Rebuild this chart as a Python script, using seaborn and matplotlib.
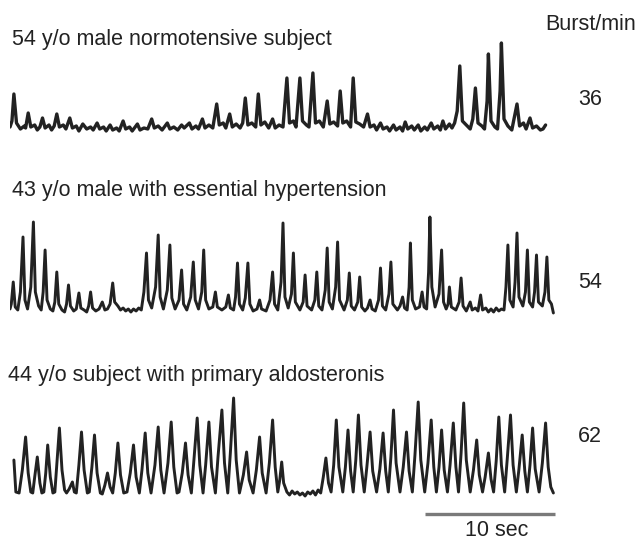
import matplotlib
matplotlib.use("Agg")
import matplotlib.pyplot as plt
import seaborn as sns
import pandas as pd

# ---------------- data (time in s, amplitude in a.u.) ----------------
titles = ["54 y/o male normotensive subject",
          "43 y/o male with essential hypertension",
          "44 y/o subject with primary aldosteronis"]
burst_rates = [36, 54, 62]
rate_header = "Burst/min"
scale_bar_seconds = 10
scale_label = "10 sec"

t1_time = [0.0, 0.15, 0.3, 0.5, 0.8, 1.1, 1.2, 1.4, 1.6, 1.9, 2.1, 2.3, 2.5, 2.7, 3.0, 3.2, 3.4, 3.6, 3.8, 4.1,
           4.3, 4.6, 4.8, 5.1, 5.3, 5.6, 5.9, 6.2, 6.4, 6.7, 6.9, 7.2, 7.4, 7.7, 7.9, 8.2, 8.4, 8.7, 8.9, 9.2,
           9.4, 9.8, 10.0, 10.3, 10.6, 10.9, 11.1, 11.4, 11.7, 12.1, 12.3, 12.6, 12.9, 13.2, 13.4, 13.8, 14.0,
           14.3, 14.5, 14.8, 15.0, 15.3, 15.6, 15.9, 16.1, 16.4, 16.6, 16.9, 17.1, 17.4, 17.7, 17.9, 18.1, 18.3,
           18.6, 18.9, 19.1, 19.3, 19.6, 19.9, 20.2, 20.4, 20.7, 21.0, 21.3, 21.5, 21.8, 22.0, 22.3, 22.5, 22.8,
           23.0, 23.3, 23.5, 23.8, 24.1, 24.4, 24.6, 24.9, 25.2, 25.4, 25.6, 25.9, 26.2, 26.4, 26.6, 26.9, 27.2,
           27.5, 27.7, 28.0, 28.2, 28.5, 28.7, 29.0, 29.2, 29.5, 29.7, 30.0, 30.2, 30.4, 30.6, 30.9, 31.1, 31.4,
           31.6, 31.9, 32.1, 32.4, 32.6, 32.9, 33.1, 33.3, 33.5, 33.8, 34.0, 34.2, 34.4, 34.6, 34.8, 35.1, 35.4,
           35.6, 35.8, 36.0, 36.3, 36.5, 36.7, 36.8, 37.0, 37.3, 37.5, 37.7, 37.8, 38.0, 38.3, 38.6, 39.0, 39.2,
           39.5, 39.7, 40.0, 40.2, 40.5, 40.8, 41.0, 41.2]
t1_amp = [4, 10, 37, 8, 2, 5, 3, 18, 4, 6, 1, 4, 13, 3, 6, 1, 5, 17, 4, 6,
          2, 13, 3, 5, 0, 7, 2, 4, 1, 8, 2, 4, 0, 6, 1, 3, 0, 10, 2, 4,
          0, 7, 1, 3, 2, 12, 3, 5, 1, 8, 2, 4, 1, 6, 3, 8, 2,
          5, 2, 12, 3, 6, 3, 27, 6, 8, 3, 17, 4, 7, 3, 8, 33, 6,
          8, 4, 37, 6, 9, 3, 12, 3, 6, 4, 53, 8, 10, 4, 53, 10, 6,
          4, 58, 8, 10, 4, 30, 7, 9, 5, 40, 8, 10, 4, 53, 9, 7, 4,
          17, 4, 6, 1, 8, 2, 4, 0, 6, 1, 4, 0, 9, 2, 5, 1, 6,
          0, 4, 1, 8, 2, 5, 1, 10, 2, 7, 3, 8, 20, 65, 10, 6, 2,
          12, 43, 8, 5, 2, 30, 77, 10, 4, 2, 40, 88, 12, 5, 1, 27, 5,
          8, 2, 13, 3, 5, 1, 2, 6]

t2_time = [0.0, 0.1, 0.25, 0.4, 0.6, 0.8, 1.0, 1.15, 1.35, 1.6, 1.8, 1.95, 2.2, 2.4, 2.55, 2.7, 2.85, 3.1, 3.3,
           3.45, 3.6, 3.75, 4.0, 4.2, 4.35, 4.5, 4.65, 4.9, 5.1, 5.3, 5.45, 5.7, 5.9, 6.05, 6.2, 6.35, 6.6, 6.85,
           7.1, 7.3, 7.5, 7.7, 7.9, 8.05, 8.3, 8.5, 8.7, 8.9, 9.1, 9.3, 9.5, 9.7, 9.9, 10.1, 10.3, 10.5, 10.65,
           10.9, 11.2, 11.4, 11.55, 11.8, 12.1, 12.3, 12.45, 12.7, 13.0, 13.2, 13.35, 13.6, 13.9, 14.1, 14.25,
           14.5, 14.75, 14.9, 15.05, 15.3, 15.6, 15.8, 15.95, 16.3, 16.6, 16.8, 16.95, 17.2, 17.35, 17.5, 17.65,
           17.9, 18.1, 18.3, 18.45, 18.7, 19.0, 19.2, 19.35, 19.7, 20.0, 20.2, 20.35, 20.6, 20.85, 21.0, 21.15,
           21.4, 21.65, 21.8, 21.95, 22.3, 22.55, 22.7, 22.85, 23.2, 23.45, 23.6, 23.75, 24.0, 24.25, 24.4,
           24.55, 24.8, 25.05, 25.2, 25.35, 25.7, 25.95, 26.1, 26.25, 26.5, 26.75, 26.9, 27.05, 27.3, 27.5,
           27.7, 27.85, 28.1, 28.35, 28.5, 28.65, 28.9, 29.15, 29.3, 29.45, 29.8, 30.0, 30.2, 30.35, 30.55,
           30.7, 30.8, 30.95, 31.2, 31.5, 31.7, 31.85, 32.05, 32.2, 32.3, 32.45, 32.7, 33.0, 33.2, 33.35, 33.55,
           33.7, 33.8, 33.95, 34.3, 34.55, 34.7, 34.85, 35.1, 35.4, 35.55, 35.8, 36.0, 36.2, 36.35, 36.6, 36.8,
           37.0, 37.2, 37.4, 37.6, 37.8, 38.0, 38.15, 38.3, 38.45, 38.7, 38.85, 39.0, 39.15, 39.45, 39.65, 39.8,
           39.95, 40.2, 40.35, 40.5, 40.65, 40.95, 41.15, 41.3, 41.45, 41.65, 41.8]
t2_amp = [3, 8, 30, 5, 2, 20, 75, 12, 3, 25, 90, 20, 6, 2, 20, 62, 12, 3, 1,
          10, 40, 8, 2, 0, 8, 27, 6, 1, 3, 19, 4, 2, 0, 6, 20, 4, 1, 3,
          10, 2, 3, 8, 29, 10, 6, 2, 4, 1, 3, 0, 3, 1, 4, 2, 20, 59, 12,
          4, 25, 77, 15, 3, 22, 67, 14, 3, 12, 42, 8, 2, 15, 50, 12,
          3, 20, 62, 12, 3, 5, 20, 5, 2, 5, 17, 4, 2, 15, 49, 8,
          2, 14, 49, 8, 1, 3, 12, 3, 1, 12, 40, 8, 2, 30, 89, 15,
          4, 18, 59, 10, 2, 10, 37, 6, 2, 12, 40, 6, 2, 22, 64,
          10, 3, 25, 70, 12, 2, 12, 39, 6, 2, 10, 35, 5, 1, 4,
          12, 3, 1, 12, 44, 6, 2, 18, 50, 8, 2, 6, 15, 4, 2,
          25, 69, 12, 3, 5, 20, 5, 3, 40, 95, 25, 5, 18, 62, 10, 3,
          8, 25, 5, 2, 10, 34, 6, 1, 10, 2, 4, 1, 17, 2, 4, 0,
          3, 0, 4, 1, 3, 2, 25, 67, 12, 5, 30, 79, 15, 6, 20, 62,
          10, 5, 20, 57, 10, 6, 20, 55, 12, 8, -1]

t3_time = [0.3, 0.45, 0.7, 0.95, 1.2, 1.4, 1.6, 1.75, 1.9, 2.1, 2.3, 2.45, 2.6, 2.75, 2.9, 3.1, 3.3, 3.45, 3.6,
           3.8, 4.0, 4.2, 4.35, 4.55, 4.8, 4.95, 5.1, 5.3, 5.5, 5.7, 5.95, 6.1, 6.3, 6.5, 6.7, 6.95, 7.1, 7.3,
           7.5, 7.7, 7.9, 8.1, 8.3, 8.5, 8.75, 9.0, 9.25, 9.5, 9.7, 9.95, 10.15, 10.4, 10.6, 10.85, 11.15, 11.4,
           11.6, 11.85, 12.15, 12.4, 12.6, 12.85, 13.0, 13.25, 13.5, 13.7, 13.95, 14.15, 14.4, 14.6, 14.85,
           15.05, 15.3, 15.5, 15.8, 16.0, 16.3, 16.5, 16.75, 16.95, 17.2, 17.4, 17.65, 17.95, 18.2, 18.4, 18.7,
           18.95, 19.2, 19.4, 19.7, 19.95, 20.2, 20.4, 20.6, 20.75, 20.9, 21.05, 21.3, 21.5, 21.7, 21.9, 22.1,
           22.3, 22.5, 22.7, 22.9, 23.1, 23.3, 23.5, 23.7, 23.9, 24.1, 24.3, 24.5, 24.7, 24.9, 25.1, 25.3, 25.6,
           25.8, 26.0, 26.2, 26.4, 26.6, 26.8, 27.0, 27.25, 27.45, 27.7, 27.9, 28.2, 28.45, 28.7, 28.9, 29.1,
           29.3, 29.5, 29.7, 30.0, 30.25, 30.5, 30.7, 30.95, 31.15, 31.4, 31.6, 31.9, 32.15, 32.4, 32.6, 32.8,
           33.0, 33.2, 33.4, 33.65, 33.85, 34.1, 34.3, 34.5, 34.7, 34.9, 35.1, 35.4, 35.65, 35.9, 36.1, 36.35,
           36.55, 36.8, 37.0, 37.2, 37.4, 37.6, 37.8, 38.05, 38.25, 38.5, 38.7, 38.95, 39.15, 39.4, 39.6, 39.8,
           40.0, 40.2, 40.4, 40.7, 40.95, 41.2, 41.4, 41.6, 41.8]
t3_amp = [35, 3, 2, 25, 58, 22, 3, 2, 18, 38, 12, 2, 3, 22, 50, 18, 2, 3, 30,
          67, 25, 5, 2, 6, 13, 3, 2, 30, 63, 25, 2, 3, 28, 60, 22, 2, 1, 10,
          22, 8, 2, 22, 52, 20, 2, 3, 22, 50, 18, 2, 25, 62, 22, 2, 30, 68,
          25, 2, 32, 73, 28, 2, 3, 22, 52, 20, 2, 35, 77, 30, 2,
          30, 73, 28, 2, 38, 85, 32, 2, 42, 97, 35, 2, 20, 43, 15, 2,
          25, 58, 22, 2, 32, 75, 28, 3, 15, 33, 12, 3, 0, 4, 1, 3,
          0, 2, -1, 3, 1, 4, 0, 5, 2, 18, 37, 12, 3, 30, 75, 28, 3,
          28, 65, 24, 3, 35, 80, 30, 3, 28, 63, 24, 3, 26, 62, 24, 3,
          38, 85, 32, 3, 28, 63, 24, 3, 40, 93, 35, 3, 32, 75, 28, 3,
          28, 65, 25, 3, 30, 72, 28, 3, 42, 92, 35, 3, 25, 55, 20, 3,
          18, 42, 16, 3, 34, 78, 30, 3, 36, 80, 30, 3, 26, 60, 24, 3,
          30, 67, 26, 3, 32, 72, 28, 8, 2]

traces = [pd.DataFrame({"time": t, "amp": a}) for t, a in
          [(t1_time, t1_amp), (t2_time, t2_amp), (t3_time, t3_amp)]]

# ---------------- figure ----------------
sns.set_style("white")
plt.rcParams["font.family"] = ["Liberation Sans", "DejaVu Sans"]

W, H = 639, 540
fig = plt.figure(figsize=(W / 100, H / 100), dpi=100)
fig.patch.set_facecolor("white")

# axes boxes in pixels: (left, top, right, bottom)
boxes = [(10, 31, 556, 141), (10, 212, 556, 322), (10, 395, 556, 530)]
ylims = [(-10, 100), (-10, 100), (-35, 100)]
axes = []
for (l, t, r, b), yl in zip(boxes, ylims):
    ax = fig.add_axes([l / W, 1 - b / H, (r - l) / W, (b - t) / H])
    ax.set_xlim(0, 42)
    ax.set_ylim(*yl)
    ax.axis("off")
    axes.append(ax)

line_color = "#222222"
line_widths = [2.4, 2.1, 2.1]
for ax, df, lw in zip(axes, traces, line_widths):
    sns.lineplot(data=df, x="time", y="amp", ax=ax, sort=False, estimator=None,
                 color=line_color, linewidth=lw, legend=False)
    ax.axis("off")

# scale bar on the last trace
ax3 = axes[2]
bar_end = 41.9
ax3.plot([bar_end - scale_bar_seconds, bar_end], [-19, -19], color="#7a7a7a",
         linewidth=2.4, solid_capstyle="butt")

txt_color = "#222222"
fs = 15.5
fig.text(12 / W, 1 - 40 / H, titles[0], fontsize=fs, color=txt_color, va="center", ha="left")
fig.text(12 / W, 1 - 191 / H, titles[1], fontsize=fs, color=txt_color, va="center", ha="left")
fig.text(8 / W, 1 - 375 / H, titles[2], fontsize=fs, color=txt_color, va="center", ha="left")
fig.text(591 / W, 1 - 24 / H, rate_header, fontsize=fs, color=txt_color, va="center", ha="center")
for rate, y in zip(burst_rates, [100, 283, 437]):
    fig.text(590 / W, 1 - y / H, str(rate), fontsize=fs, color=txt_color, va="center", ha="center")
fig.text(497 / W, 1 - 530 / H, scale_label, fontsize=fs, color=txt_color, va="center", ha="center")

fig.savefig("out.png", dpi=100, facecolor="white")
